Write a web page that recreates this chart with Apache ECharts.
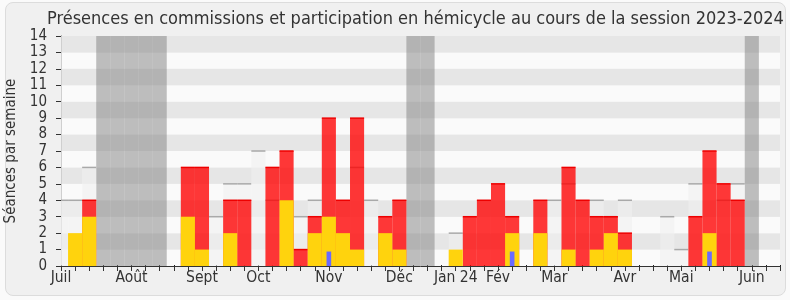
<!DOCTYPE html>
<html>
<head>
<meta charset="utf-8">
<script src="https://cdn.jsdelivr.net/npm/echarts@6/dist/echarts.min.js"></script>
<style>
html,body{margin:0;padding:0;background:#fafafa;}
#frame{position:absolute;left:5px;top:2px;width:779px;height:292px;border:1px solid #dcdcdc;border-radius:8px;background:#f0f0f0;}
#chart{position:absolute;left:0;top:0;width:790px;height:300px;}
</style>
</head>
<body>
<div id="frame"></div>
<div id="chart"></div>
<script>
// Week index 0..51 (ticks), month labels placed at week ticks
const monthTicks = [0, 5, 10, 14, 19, 24, 28, 31, 35, 40, 44, 49];
const monthLabels = ['Juil', 'Août', 'Sept', 'Oct', 'Nov', 'Déc', 'Jan 24', 'Fév', 'Mar', 'Avr', 'Mai', 'Juin'];
const yTicks = [0,1,2,3,4,5,6,7,8,9,10,11,12,13,14];

// Vacation weeks (parliament off)
const vacationWeeks = [3, 4, 5, 6, 7, 25, 26, 49];

// Participation en hémicycle (red), per week 0..51
const hemicycle = [0,0,4,0,0,0,0,0,0,6,6,0,4,4,0,6,7,1,3,9,4,9,0,3,4,0,0,0,0,3,4,5,3,0,4,0,6,4,3,3,2,0,0,0,0,3,7,5,4,0,0,0];
// Présences en commission (yellow)
const commission = [0,2,3,0,0,0,0,0,0,3,1,0,2,0,0,0,4,0,2,3,2,1,0,2,1,0,0,0,1,0,0,0,2,0,2,0,1,0,1,2,1,0,0,0,0,0,2,0,0,0,0,0];
// Questions orales (blue)
const questions = [0,0,0,0,0,0,0,0,0,0,0,0,0,0,0,0,0,0,0,0.88,0,0,0,0,0,0,0,0,0,0,0,0,0.88,0,0,0,0,0,0,0,0,0,0,0,0,0,0.88,0,0,0,0,0];
// Médiane des députés (grey)
const mediane = [4,4,6,0,0,0,0,0,0,0,0,3,5,5,7,4,0,3,4,0,0,6,4,0,0,0,0,0,2,0,0,0,0,0,0,4,5,0,4,3,4,0,0,3,1,5,0,4,5,0,0,0];

const FONT = "'DejaVu Sans Condensed', 'DejaVu Sans', sans-serif";

function pairs(arr) { return arr.map((v, i) => [i, v]); }

function clip(rect, params) {
  const cs = params.coordSys;
  return echarts.graphic.clipRectByRect(rect, {x: cs.x, y: cs.y, width: cs.width, height: cs.height});
}

function rectFor(api, k, lo, hi, widthFrac) {
  const w = widthFrac || 1;
  const p0 = api.coord([k - 0.5 * w, hi]);
  const p1 = api.coord([k + 0.5 * w, lo]);
  return {x: p0[0], y: p0[1], width: p1[0] - p0[0], height: p1[1] - p0[1]};
}

function simpleBar(fill, topLine, widthFrac) {
  return function (params, api) {
    const k = api.value(0), v = api.value(1);
    if (!v) return null;
    const r = clip(rectFor(api, k, 0, v, widthFrac), params);
    if (!r) return null;
    const children = [{type: 'rect', shape: r, style: {fill: fill}}];
    if (topLine) {
      children.push({type: 'line', shape: {x1: r.x, y1: r.y, x2: r.x + r.width, y2: r.y},
        style: {stroke: topLine.color, lineWidth: topLine.width}});
    }
    return {type: 'group', children: children};
  };
}

const vacData = vacationWeeks.map(k => [k, 14]);

const option = {
  backgroundColor: 'transparent',
  animation: false,
  title: {
    text: 'Présences en commissions et participation en hémicycle au cours de la session 2023-2024',
    left: 42, top: 5,
    textStyle: {fontFamily: FONT, fontSize: 18, fontWeight: 'normal', color: '#333'}
  },
  grid: {left: 61, right: 10, top: 36, bottom: 34, containLabel: false, outerBoundsMode: 'none'},
  xAxis: [{
    type: 'value', min: 0, max: 51, interval: 1, position: 'bottom',
    axisLine: {show: true, lineStyle: {color: '#333', width: 1}},
    axisTick: {show: true, length: 5, lineStyle: {color: '#333'}},
    splitLine: {show: false},
    axisLabel: {
      margin: 4, fontFamily: FONT, fontSize: 15.5, color: '#333',
      formatter: function (v) { const i = monthTicks.indexOf(Math.round(v)); return (i >= 0 && Math.abs(v - Math.round(v)) < 1e-6) ? monthLabels[i] : ''; }
    }
  }, {
    type: 'value', min: 0, max: 51, interval: 1, position: 'top',
    axisLine: {show: false},
    axisTick: {show: true, length: 1, lineStyle: {color: '#222'}},
    splitLine: {show: false},
    axisLabel: {show: false}
  }],
  yAxis: [{
    type: 'value', min: 0, max: 14, interval: 1,
    name: 'Séances par semaine', nameLocation: 'middle', nameGap: 37, nameRotate: 90,
    nameTextStyle: {fontFamily: FONT, fontSize: 15, color: '#333'},
    axisLine: {show: true, lineStyle: {color: '#333'}},
    axisTick: {show: true, length: 5, lineStyle: {color: '#333'}},
    splitLine: {show: false},
    splitArea: {show: true, areaStyle: {color: ['#fafafa', '#e6e6e6']}},
    axisLabel: {margin: 14, fontFamily: FONT, fontSize: 15, color: '#333',
      formatter: function (v) { return yTicks.indexOf(v) >= 0 ? String(v) : ''; }}
  }, {
    type: 'value', min: 0, max: 14, interval: 1, position: 'right',
    axisLine: {show: true, lineStyle: {color: '#cfcfcf'}},
    axisTick: {show: false}, axisLabel: {show: false}, splitLine: {show: false}, splitArea: {show: false}
  }],
  series: [
    {
      name: 'Vacances', type: 'custom', data: vacData, z: 2,
      renderItem: simpleBar('rgba(128,128,128,0.5)', null)
    },
    {
      name: 'Médiane', type: 'custom', data: pairs(mediane), z: 3,
      renderItem: simpleBar('rgba(240,240,240,0.6)', {color: '#a9a9a9', width: 1.5})
    },
    {
      name: 'Hémicycle', type: 'custom', data: pairs(hemicycle), z: 4,
      renderItem: simpleBar('rgba(255,0,0,0.78)', {color: '#ee0000', width: 1.5})
    },
    {
      name: 'Commission', type: 'custom', data: pairs(commission), z: 5,
      renderItem: simpleBar('#ffd30d', null)
    },
    {
      name: 'Questions', type: 'custom', data: pairs(questions), z: 6,
      renderItem: simpleBar('#6a6aff', null, 0.33)
    }
  ]
};

const chart = echarts.init(document.getElementById('chart'), null, {renderer: 'canvas'});
chart.setOption(option);
</script>
</body>
</html>
